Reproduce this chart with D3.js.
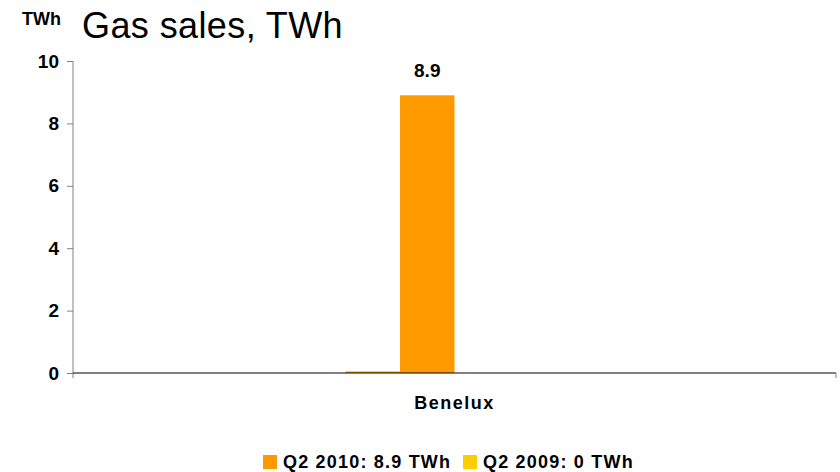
<!DOCTYPE html>
<html>
<head>
<meta charset="utf-8">
<script src="https://cdn.jsdelivr.net/npm/d3@7"></script>
<style>
    body { margin: 0; background: #fff; }
    svg text { font-family: "Liberation Sans", Arial, sans-serif; }
</style>
</head>
<body>
<div id="chart"></div>
<script>
// Chart data
const categories = ["Benelux"];
const barSlots = ["s1", "s2", "s3", "s4"];
const barValues = [0.05, 8.9, 0, 0];
const barColors = ["#FF9900", "#FF9900", "#FFCC00", "#FFCC00"];
const barLabels = ["", "8.9", "", ""];
const yTicks = [0, 2, 4, 6, 8, 10];
const legendItems = ["Q2 2010: 8.9 TWh", "Q2 2009: 0 TWh"];
const legendColors = ["#FF9900", "#FFCC00"];

const width = 840, height = 472;
const margin = { top: 61, right: 4, bottom: 99, left: 73 };

const svg = d3.select("#chart")
    .append("svg")
    .attr("width", width)
    .attr("height", height);

// Title
svg.append("text")
    .attr("x", 82)
    .attr("y", 38)
    .attr("font-size", "36px")
    .attr("letter-spacing", "0.4px")
    .attr("fill", "#000")
    .text("Gas sales, TWh");

svg.append("text")
    .attr("x", 22)
    .attr("y", 25)
    .attr("font-size", "18px")
    .attr("font-weight", "bold")
    .text("TWh");

const x0 = d3.scaleBand()
    .domain(categories)
    .range([margin.left, width - margin.right])
    .paddingOuter(1.25)
    .paddingInner(0);

const x1 = d3.scaleBand()
    .domain(barSlots)
    .range([0, x0.bandwidth()]);

const y = d3.scaleLinear()
    .domain([0, 10])
    .range([height - margin.bottom, margin.top]);

// Y axis
const yAxis = svg.append("g")
    .attr("transform", `translate(${margin.left},0)`)
    .call(d3.axisLeft(y).tickValues(yTicks).tickSize(6).tickPadding(8).tickSizeOuter(0));
yAxis.select(".domain").remove();
yAxis.append("line")
    .attr("x1", 0).attr("x2", 0)
    .attr("y1", y(10)).attr("y2", y(0) + 5)
    .attr("stroke", "#808080");
yAxis.selectAll(".tick line").attr("stroke", "#808080");
yAxis.selectAll(".tick text")
    .attr("font-size", "19px")
    .attr("font-weight", "bold")
    .attr("fill", "#000");

// Bars
const group = svg.append("g")
    .attr("transform", `translate(${x0("Benelux")},0)`);

group.selectAll("rect")
    .data(barValues)
    .enter().append("rect")
    .attr("x", (d, i) => x1(barSlots[i]))
    .attr("width", x1.bandwidth())
    .attr("y", d => y(d))
    .attr("height", d => y(0) - y(d))
    .attr("fill", (d, i) => barColors[i]);

group.selectAll(".val")
    .data(barValues)
    .enter().append("text")
    .attr("class", "val")
    .attr("x", (d, i) => x1(barSlots[i]) + x1.bandwidth() / 2)
    .attr("y", d => y(d) - 18)
    .attr("text-anchor", "middle")
    .attr("font-size", "19px")
    .attr("font-weight", "bold")
    .text((d, i) => barLabels[i]);

// X axis
svg.append("line")
    .attr("x1", margin.left).attr("x2", width - margin.right)
    .attr("y1", y(0)).attr("y2", y(0))
    .attr("stroke", "#000");
svg.append("line")
    .attr("x1", width - margin.right).attr("x2", width - margin.right)
    .attr("y1", y(0)).attr("y2", y(0) + 5)
    .attr("stroke", "#808080");

svg.selectAll(".cat")
    .data(categories)
    .enter().append("text")
    .attr("class", "cat")
    .attr("x", (width - margin.right + margin.left) / 2)
    .attr("y", 409)
    .attr("text-anchor", "middle")
    .attr("font-size", "18px")
    .attr("font-weight", "bold")
    .attr("letter-spacing", "1.5px")
    .text(d => d);

// Legend
const legendX = [263, 463];
const legend = svg.selectAll(".legend")
    .data(legendItems)
    .enter().append("g")
    .attr("class", "legend")
    .attr("transform", (d, i) => `translate(${legendX[i]},455)`);

legend.append("rect")
    .attr("width", 14)
    .attr("height", 14)
    .attr("fill", (d, i) => legendColors[i]);

legend.append("text")
    .attr("x", 20)
    .attr("y", 13)
    .attr("font-size", "18px")
    .attr("font-weight", "bold")
    .attr("letter-spacing", "1.2px")
    .text(d => d);
</script>
</body>
</html>
